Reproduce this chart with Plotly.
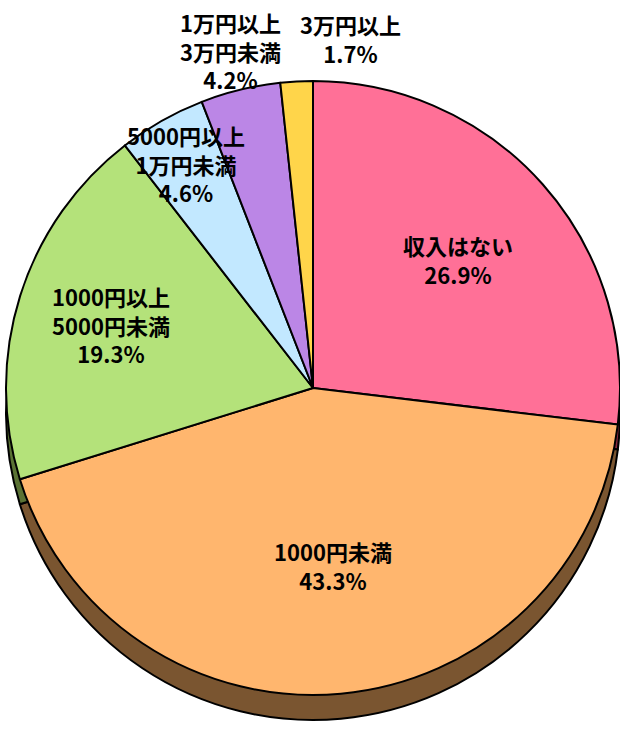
import math
import plotly.graph_objects as go

categories = ["収入はない", "1000円未満", "1000円以上<br>5000円未満",
              "5000円以上<br>1万円未満", "1万円以上<br>3万円未満", "3万円以上"]
values = [26.9, 43.3, 19.3, 4.6, 4.2, 1.7]

face_colors = ["#ff7097", "#ffb66e", "#b4e27a", "#c2e8ff", "#bb86e6", "#ffd54a"]
side_colors = ["#8a2a40", "#7a5530", "#5a7234", "#6a8aa0", "#6a4a88", "#9a8030"]
# label placement (fraction of radius along each slice's bisector)
label_radius = [0.63, 0.58, 0.69, 0.84, 1.13, 1.14]
label_xshift = [0, 4, 0, 0, 0, 56]

W, H = 620, 730
cx, cy, r = 313, 388, 307
off = 25
FONT = dict(family="Noto Sans CJK JP", size=22, color="black", weight="bold")

def dom(cx, cy, r):
    return dict(x=[(cx - r) / W, min(1.0, (cx + r) / W)],
                y=[(H - (cy + r)) / H, (H - (cy - r)) / H])

fig = go.Figure()
fig.add_trace(go.Pie(
    labels=categories, values=values, sort=False, direction="clockwise", rotation=0,
    marker=dict(colors=side_colors, line=dict(color="black", width=2)),
    textinfo="none", hoverinfo="skip", domain=dom(cx, cy + off, r), showlegend=False,
))
fig.add_trace(go.Pie(
    labels=categories, values=values, sort=False, direction="clockwise", rotation=0,
    marker=dict(colors=face_colors, line=dict(color="black", width=2)),
    textinfo="none", domain=dom(cx, cy, r), showlegend=False,
))

total = sum(values)
cum = 0.0
for lab, v, k, xs in zip(categories, values, label_radius, label_xshift):
    mid = (cum + v / 2) / total
    cum += v
    a = 2 * math.pi * mid
    px = cx + k * r * math.sin(a)
    py = cy - k * r * math.cos(a)
    fig.add_annotation(x=px / W, y=1 - py / H, xref="paper", yref="paper",
                       text=f"{lab}<br>{v:.1f}%", showarrow=False, xshift=xs,
                       font=FONT, align="center", xanchor="center", yanchor="middle")

fig.update_layout(
    width=W, height=H, margin=dict(l=0, r=0, t=0, b=0),
    paper_bgcolor="white", plot_bgcolor="white",
)
fig.write_html("out.html")
